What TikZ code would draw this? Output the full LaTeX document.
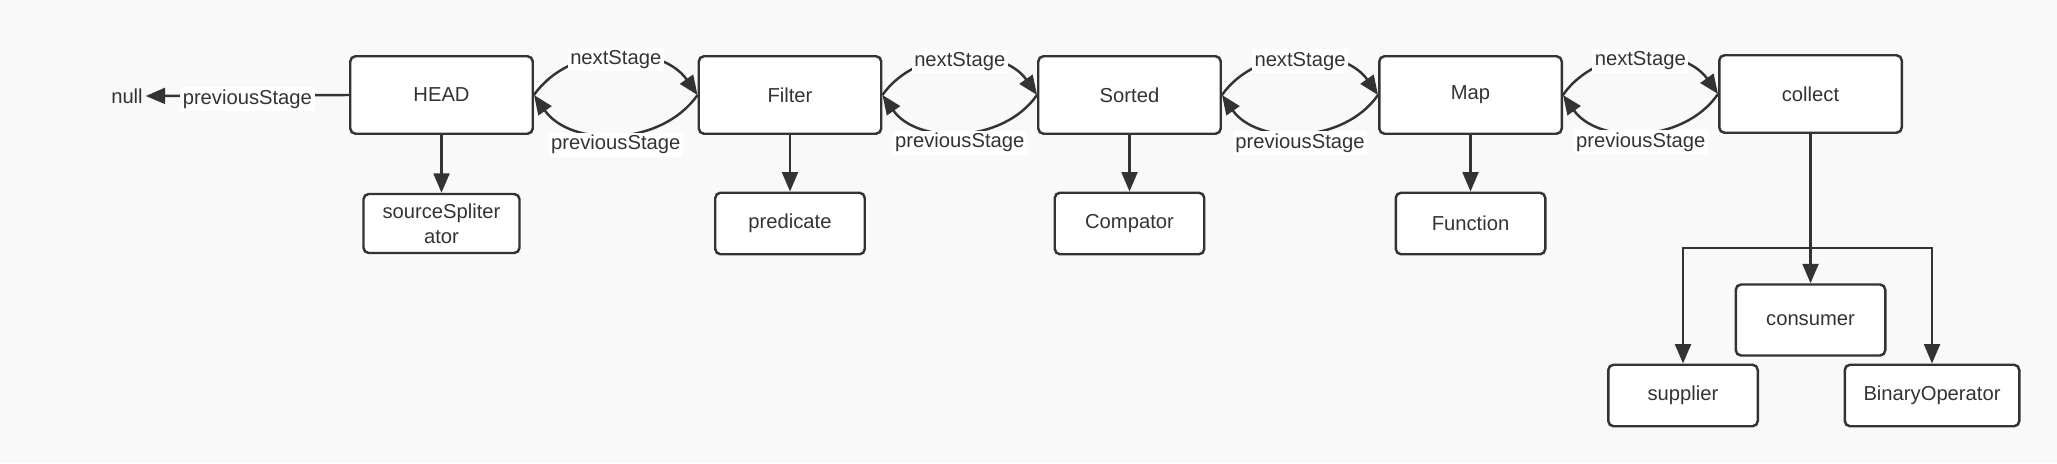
\documentclass[tikz,border=0pt]{standalone}
\usepackage{fontspec}
\setmainfont{Liberation Sans}
\usetikzlibrary{arrows.meta,positioning}
\definecolor{ink}{HTML}{333333}
\definecolor{paper}{HTML}{F9F9F9}

\begin{document}
\begin{tikzpicture}[
  box/.style={draw=ink,fill=white,line width=1.4pt,rounded corners=3pt,minimum width=3.65cm,minimum height=1.55cm,font=\fontsize{11.5}{14}\selectfont,text=ink,align=center},
  sub/.style={box,minimum width=2.99cm,minimum height=1.23cm},
  arr/.style={draw=ink,line width=1.4pt,-{Triangle[length=11pt,width=9pt]}},
  lbl/.style={fill=white,inner sep=1.5pt,yshift=-2pt,font=\fontsize{11.5}{14}\selectfont,text=ink},
  lbldown/.style={lbl,yshift=-4pt},
]
  \fill[paper] (0,0) rectangle (41.14,9.26);
  \useasboundingbox (0,0) rectangle (41.14,9.26);

  % pipeline stages
  \node[box] (head) at (8.83,7.36) {HEAD};
  \node[box] (filter) at (15.80,7.36) {Filter};
  \node[box] (sorted) at (22.59,7.36) {Sorted};
  \node[box] (map) at (29.41,7.36) {Map};
  \node[box] (collect) at (36.21,7.38) {collect};
  \node[lbl,fill=none,yshift=2pt] (null) at (2.54,7.34) {null};

  % what each stage holds
  \node[sub,minimum width=3.12cm,minimum height=1.18cm] (spliter) at (8.83,4.79) {sourceSpliter\\ator};
  \node[sub] (pred) at (15.80,4.79) {predicate};
  \node[sub] (comp) at (22.59,4.79) {Compator};
  \node[sub] (func) at (29.41,4.79) {Function};
  \node[sub,minimum height=1.42cm] (consumer) at (36.21,2.86) {consumer};
  \node[sub] (supplier) at (33.66,1.35) {supplier};
  \node[sub,minimum width=3.49cm] (binop) at (38.64,1.35) {BinaryOperator};

  % links between stages
  \draw[arr] (head.west) -- node[lbl]{previousStage} (null.east);
  \draw[arr] (head.east) to[bend left=55] node[lbl]{nextStage} (filter.west);
  \draw[arr] (filter.west) to[bend left=55] node[lbldown]{previousStage} (head.east);
  \draw[arr] (filter.east) to[bend left=55] node[lbl]{nextStage} (sorted.west);
  \draw[arr] (sorted.west) to[bend left=55] node[lbldown]{previousStage} (filter.east);
  \draw[arr] (sorted.east) to[bend left=55] node[lbl]{nextStage} (map.west);
  \draw[arr] (map.west) to[bend left=55] node[lbldown]{previousStage} (sorted.east);
  \draw[arr] (map.east) to[bend left=55] node[lbl]{nextStage} (collect.west);
  \draw[arr] (collect.west) to[bend left=55] node[lbldown]{previousStage} (map.east);

  \draw[arr] (head) -- (spliter);
  \draw[arr] (filter) -- (pred);
  \draw[arr] (sorted) -- (comp);
  \draw[arr] (map) -- (func);

  % collector fork
  \coordinate (fork) at (36.21,4.30);
  \draw[arr] (collect.south) -- (consumer.north);
  \draw[arr] (fork) -| (supplier.north);
  \draw[arr] (fork) -| (binop.north);
\end{tikzpicture}
\end{document}
